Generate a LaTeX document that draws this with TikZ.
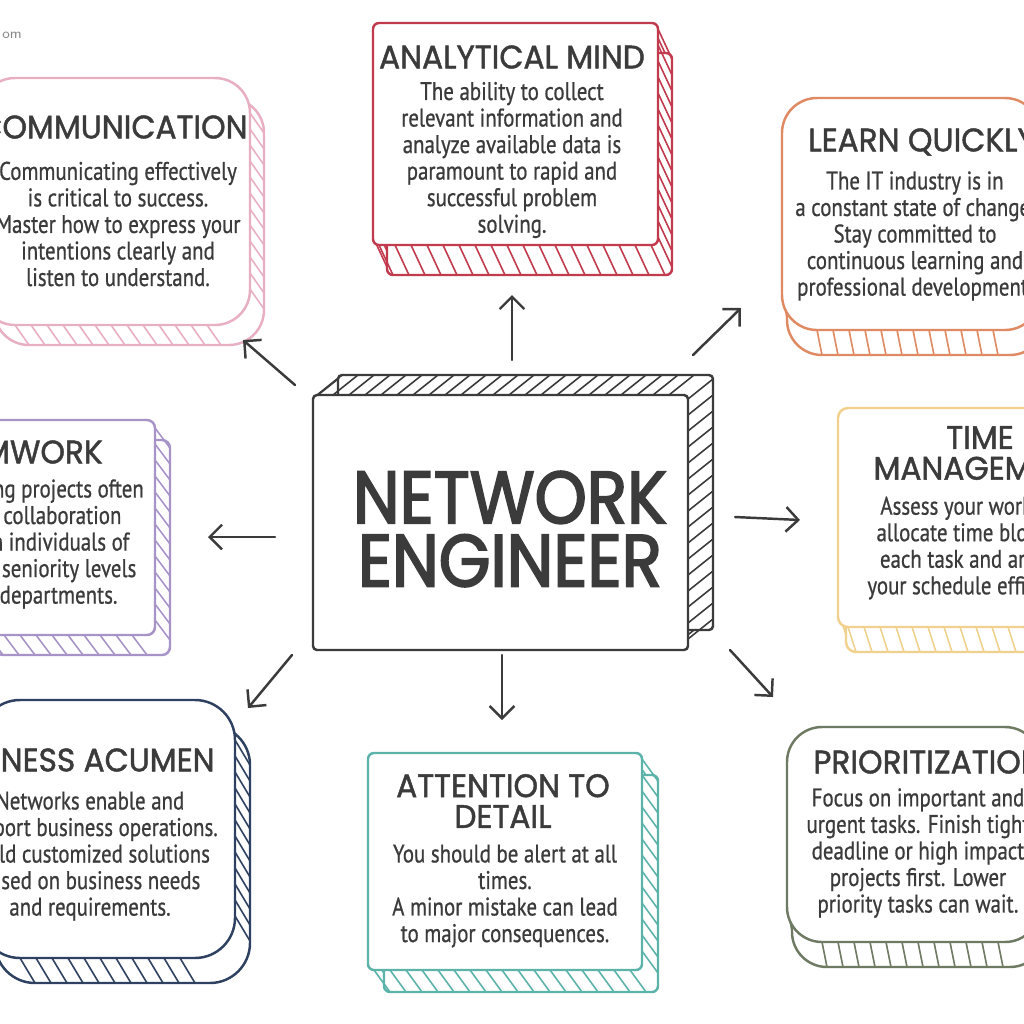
\documentclass[tikz,border=0pt]{standalone}
\usepackage{fontspec}
\setmainfont{PT Sans}
\newfontfamily\bodyfont[FakeStretch=0.82,FakeBold=0.7]{PT Sans}
\newfontfamily\headfont[FakeStretch=0.96,FakeBold=1.4]{Poppins}
\newfontfamily\bigfont[FakeStretch=0.9,FakeBold=2.5]{Poppins}
\usetikzlibrary{arrows.meta}

\definecolor{ink}{HTML}{3B3B3B}
\definecolor{pinkline}{HTML}{E8AFC3}
\definecolor{redline}{HTML}{C23A4E}
\definecolor{orangeline}{HTML}{DF8A63}
\definecolor{lilacline}{HTML}{A793C8}
\definecolor{goldline}{HTML}{F0D28E}
\definecolor{navyline}{HTML}{2E4160}
\definecolor{tealline}{HTML}{5BB3AA}
\definecolor{oliveline}{HTML}{6F7A63}

\begin{document}
\begin{tikzpicture}[x=0.2mm, y=-0.2mm,
  outline/.style={line width=1.4pt, line join=round},
  hatch/.style={line width=0.9pt},
  arr/.style={-{Straight Barb[length=7pt,width=14pt]}, line width=1.4pt, ink, line cap=round},
  title/.style={font=\headfont\fontsize{18.5}{17.5}\selectfont, text=ink, align=center, inner sep=0pt},
  body/.style={font=\bodyfont\fontsize{14.5}{15.1}\selectfont, text=ink, align=center, inner sep=0pt}]

\useasboundingbox (0,0) rectangle (1024,1024);
\clip (0,0) rectangle (1024,1024);
\fill[white] (0,0) rectangle (1024,1024);

% sketched boxes: colour / left / top / right / bottom / depth x / depth y / corner
\foreach \col/\xa/\ya/\xb/\yb/\dx/\dy/\rad in {
    pinkline/-20/78/250/325/14/20/35,
    redline/373/23/658/245/14/30/6,
    orangeline/782/98/1040/330/5/25/35,
    lilacline/-20/420/155/635/15/20/8,
    goldline/838/408/1040/627/8/25/10,
    navyline/-20/700/235/958/15/25/40,
    tealline/368/753/642/970/16/22/6,
    oliveline/787/727/1040/942/5/25/35,
    ink/313/395/688/650/25/-20/4}
{
    \draw[outline, \col, fill=white, rounded corners=\rad*0.2mm]
        (\xa+\dx,\ya+\dy) rectangle (\xb+\dx,\yb+\dy);
    \pgfmathsetmacro\hs{\xa+\rad}
    \pgfmathsetmacro\hn{\xa+\rad+16}
    \pgfmathsetmacro\he{\xb-\rad}
    \foreach \x in {\hs,\hn,...,\he}
    {
        \draw[hatch, \col] (\x,\ya) -- ++(\dx,\dy);
        \draw[hatch, \col] (\x,\yb) -- ++(\dx,\dy);
    }
    \pgfmathsetmacro\vs{\ya+\rad}
    \pgfmathsetmacro\vn{\ya+\rad+16}
    \pgfmathsetmacro\ve{\yb-\rad}
    \foreach \y in {\vs,\vn,...,\ve}
    {
        \draw[hatch, \col] (\xa,\y) -- ++(\dx,\dy);
        \draw[hatch, \col] (\xb,\y) -- ++(\dx,\dy);
    }
    \draw[outline, \col, fill=white, rounded corners=\rad*0.2mm]
        (\xa,\ya) rectangle (\xb,\yb);
}

% arrows out of the centre
\foreach \n/\xa/\ya/\xb/\yb in {up/512/360/512/295, ul/295/385/243/340,
    ur/693/355/741/308, le/275/537/208/537, ri/735/517/800/520,
    dl/292/655/248/708, dn/502/655/502/720, dr/730/650/773/697}
{
    \coordinate (t-\n) at (\xa,\ya);
    \coordinate (h-\n) at (\xb,\yb);
    \draw[arr] (t-\n) -- (h-\n);
}

\node[font=\sffamily\fontsize{8}{8}\selectfont, text=ink!60, anchor=west, inner sep=0pt]
    (mark) at (2,35) {om};

\node[title, font=\bigfont\fontsize{42}{36}\selectfont] (ne) at (510,529) {NETWORK\\ENGINEER};

\node[title] (comm-title) at (113,127) {COMMUNICATION};
\node[body] (comm-text) at (118,224) {Communicating effectively\\is critical to success.\\Master how to express your\\intentions clearly and\\listen to understand.};

\node[title] (am-title) at (512,57) {ANALYTICAL MIND};
\node[body] (am-text) at (512,160) {The ability to collect\\relevant information and\\analyze available data is\\paramount to rapid and\\successful problem\\solving.};

\node[title] (lq-title) at (922,142) {LEARN QUICKLY};
\node[body] (lq-text) at (915,236) {The IT industry is in\\a constant state of change.\\Stay committed to\\continuous learning and\\professional development.};

\node[title] (tm-title) at (980,453) {TIME\\MANAGEMENT};
\node[body] (tm-text) at (978,548) {Assess your workload,\\allocate time blocks to\\each task and arrange\\your schedule efficiently.};

\node[title, anchor=east] (tw-title) at (103,452) {TEAMWORK};
\node[body] (tw-text) at (28,544) {Networking projects often\\require collaboration\\between individuals of\\different seniority levels\\across departments.};

\node[title, anchor=east] (ba-title) at (215,760) {BUSINESS ACUMEN};
\node[body] (ba-text) at (90,856) {Networks enable and\\support business operations.\\Build customized solutions\\based on business needs\\and requirements.};

\node[title] (ad-title) at (503,801) {ATTENTION TO\\DETAIL};
\node[body] (ad-text) at (505,896) {You should be alert at all\\times.\\A minor mistake can lead\\to major consequences.};

\node[title, anchor=west] (pr-title) at (813,762) {PRIORITIZATION};
\node[body] (pr-text) at (918,853) {Focus on important and\\urgent tasks. Finish tight\\deadline or high impact\\projects first. Lower\\priority tasks can wait.};

\end{tikzpicture}
\end{document}
